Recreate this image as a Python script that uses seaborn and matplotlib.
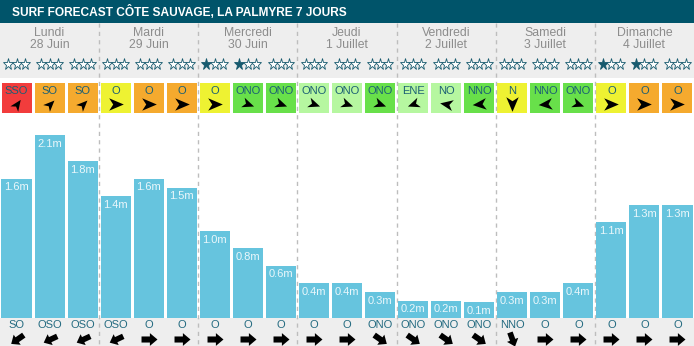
import numpy as np
import pandas as pd
import matplotlib
matplotlib.use("Agg")
import matplotlib.pyplot as plt
from matplotlib.patches import Rectangle
import seaborn as sns

# ---------------- data ----------------
title = "SURF FORECAST CÔTE SAUVAGE, LA PALMYRE 7 JOURS"
days = ["Lundi", "Mardi", "Mercredi", "Jeudi", "Vendredi", "Samedi", "Dimanche"]
dates = ["28 Juin", "29 Juin", "30 Juin", "1 Juillet", "2 Juillet", "3 Juillet", "4 Juillet"]
stars = [0, 0, 0, 0, 0, 0, 1, 1, 0, 0, 0, 0, 0, 0, 0, 0, 0, 0, 1, 1, 0]
wind_dir = ["SSO", "SO", "SO", "O", "O", "O", "O", "ONO", "ONO",
            "ONO", "ONO", "ONO", "ENE", "NO", "NNO", "N", "NNO", "ONO",
            "O", "O", "O"]
wind_level = ["red", "orange", "orange", "yellow", "orange", "orange",
              "yellow", "green", "green", "light", "light", "green",
              "light", "light", "green", "yellow", "green", "green",
              "yellow", "orange", "orange"]
wave_height = [1.6, 2.1, 1.8, 1.4, 1.6, 1.5, 1.0, 0.8, 0.6, 0.4, 0.4, 0.3,
               0.2, 0.2, 0.1, 0.3, 0.3, 0.4, 1.1, 1.3, 1.3]
swell_dir = ["SO", "OSO", "OSO", "OSO", "O", "O", "O", "O", "O",
             "O", "O", "ONO", "ONO", "ONO", "ONO", "NNO", "O", "O",
             "O", "O", "O"]

# ---------------- styles ----------------
level_colors = {"red": "#f23c3c", "orange": "#f5aa2e", "yellow": "#eef232",
                "green": "#68e04a", "light": "#b6f7a0"}
wind_arrow_angle = {"SSO": 55, "SO": 45, "O": 0, "ONO": -20, "ENE": 200,
                    "NO": 170, "NNO": 185, "N": -90}
swell_arrow_angle = {"SO": 215, "OSO": 205, "O": 0, "ONO": -35, "NNO": -70}

W, H = 694, 346
n = len(wave_height)
slot_px = W / n
px_per_m = 87.0
base_y = 318
bar_top_y = 120

sns.set_theme(style="white")
plt.rcParams["font.family"] = ["Liberation Sans", "DejaVu Sans"]

fig = plt.figure(figsize=(W / 100, H / 100), dpi=100)
fig.patch.set_facecolor("white")

# overlay axes: x in slot units, y in pixels (top down)
ov = fig.add_axes([0, 0, 1, 1], zorder=0)
ov.set_xlim(-0.5, n - 0.5)
ov.set_ylim(H, 0)
ov.axis("off")

def pw(px):
    return px / slot_px

ov.add_patch(Rectangle((-0.5, 0), n, 23, color="#00546a", lw=0))
ov.add_patch(Rectangle((-0.5, 23), n, 55, color="#eeeeee", lw=0))
ov.add_patch(Rectangle((-0.5, base_y), n, H - base_y, color="#eeeeee", lw=0))
ov.text(pw(12) - 0.5, 11.5, title, color="white", fontsize=8.6, fontweight="bold",
        va="center", ha="left")

for k in range(1, 7):
    ov.plot([3 * k - 0.5] * 2, [23, H], color="#bdbdbd", lw=1,
            ls=(0, (3, 3)))

for d in range(7):
    cx = 3 * d + 1
    ov.text(cx, 33.5, days[d], color="#8c8c8c", fontsize=8.8, ha="center", va="center")
    ov.text(cx, 45.5, dates[d], color="#8c8c8c", fontsize=8.8, ha="center", va="center")

def arrowhead(angle):
    v = np.array([(1, 0), (-1, 0.85), (-0.45, 0), (-1, -0.85), (1, 0)])
    a = np.deg2rad(angle)
    R = np.array([[np.cos(a), -np.sin(a)], [np.sin(a), np.cos(a)]])
    return v @ R.T

def fatarrow(angle):
    v = np.array([(-1, -0.38), (0.05, -0.38), (0.05, -0.8), (1, 0),
                  (0.05, 0.8), (0.05, 0.38), (-1, 0.38), (-1, -0.38)])
    a = np.deg2rad(angle)
    R = np.array([[np.cos(a), -np.sin(a)], [np.sin(a), np.cos(a)]])
    return v @ R.T

star_col = "#175a6e"
for j in range(n):
    # stars
    for k in range(3):
        filled = k < stars[j]
        ov.plot(j + pw((k - 1) * 8.4), 63.5, marker="*", ms=8.3,
                mfc=star_col if filled else "white", mec=star_col, mew=0.6)
    # wind box
    ov.add_patch(Rectangle((j - pw(15), 83), pw(30), 30,
                           color=level_colors[wind_level[j]], lw=0))
    ov.text(j, 90.5, wind_dir[j], color="#1b5f74", fontsize=8, ha="center", va="center")
    ov.plot(j, 104, marker=arrowhead(wind_arrow_angle[wind_dir[j]]),
            color="black", ms=10.5, mew=0)
    # swell
    ov.text(j, 325.5, swell_dir[j], color="#236a80", fontsize=8, ha="center", va="center")
    ov.plot(j, 339, marker=fatarrow(swell_arrow_angle[swell_dir[j]]),
            color="black", ms=11.5, mew=0)

# bar axes
bax = fig.add_axes([0, (H - base_y) / H, 1, (base_y - bar_top_y) / H], zorder=1)
bax.patch.set_alpha(0)
df = pd.DataFrame({"slot": np.arange(n), "value": wave_height,
                   "shown": np.maximum(wave_height, 0.185)})
sns.barplot(data=df, x="slot", y="shown", color="#66c4de", saturation=1,
            width=0.91, ax=bax, linewidth=0)
bax.set_xlim(-0.5, n - 0.5)
bax.set_ylim(0, (base_y - bar_top_y) / px_per_m)
bax.axis("off")
for j, (v, h) in enumerate(zip(df["value"], df["shown"])):
    bax.annotate(f"{v:.1f}m", (j, h), xytext=(0, -6.2), textcoords="offset points",
                 ha="center", va="center", color="#eaf7fb", fontsize=8)

fig.savefig("out.png", dpi=100)
